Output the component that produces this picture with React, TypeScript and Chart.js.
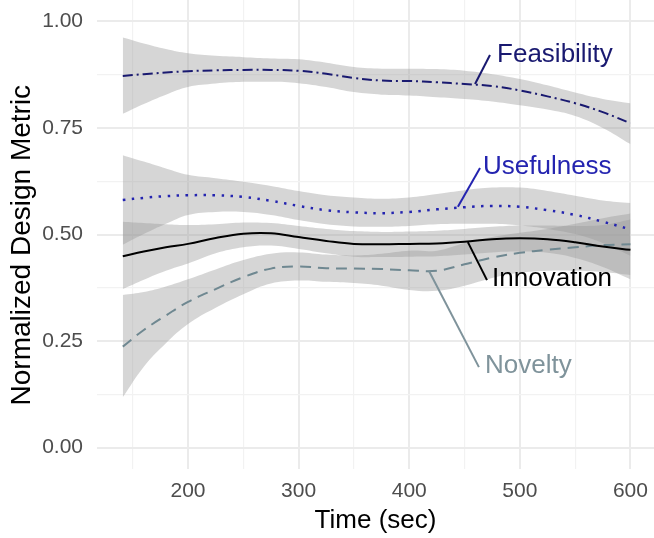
import React, { useEffect, useRef } from "react";
import { Chart, registerables } from "chart.js";

Chart.register(...registerables);

// ---- data ----
const times = [141, 160, 180, 200, 225, 250, 275, 300, 325, 350, 375, 400, 425, 450, 475, 500, 525, 550, 575, 600];

const feasibility = [0.872, 0.876, 0.880, 0.883, 0.885, 0.886, 0.886, 0.884, 0.877, 0.867, 0.861, 0.860, 0.857, 0.853, 0.848, 0.838, 0.824, 0.808, 0.787, 0.761];
const feasibilityUpper = [0.962, 0.948, 0.935, 0.925, 0.919, 0.916, 0.913, 0.911, 0.903, 0.893, 0.889, 0.889, 0.888, 0.884, 0.876, 0.865, 0.850, 0.833, 0.818, 0.808];
const feasibilityLower = [0.783, 0.806, 0.828, 0.846, 0.854, 0.858, 0.858, 0.855, 0.846, 0.834, 0.828, 0.826, 0.822, 0.818, 0.812, 0.803, 0.793, 0.778, 0.750, 0.712];

const usefulness = [0.581, 0.586, 0.590, 0.592, 0.592, 0.588, 0.579, 0.567, 0.557, 0.552, 0.550, 0.553, 0.559, 0.564, 0.567, 0.565, 0.557, 0.546, 0.530, 0.512];
const usefulnessUpper = [0.686, 0.671, 0.655, 0.640, 0.632, 0.624, 0.614, 0.602, 0.592, 0.587, 0.584, 0.587, 0.595, 0.604, 0.610, 0.610, 0.602, 0.591, 0.580, 0.574];
const usefulnessLower = [0.476, 0.501, 0.525, 0.546, 0.553, 0.553, 0.546, 0.534, 0.524, 0.519, 0.518, 0.520, 0.524, 0.525, 0.525, 0.521, 0.513, 0.501, 0.480, 0.450];

const innovation = [0.449, 0.460, 0.470, 0.478, 0.492, 0.502, 0.503, 0.494, 0.485, 0.478, 0.477, 0.478, 0.479, 0.483, 0.489, 0.491, 0.489, 0.482, 0.472, 0.464];
const innovationUpper = [0.530, 0.527, 0.524, 0.522, 0.524, 0.528, 0.527, 0.520, 0.513, 0.508, 0.506, 0.507, 0.509, 0.513, 0.518, 0.521, 0.521, 0.520, 0.522, 0.535];
const innovationLower = [0.372, 0.394, 0.415, 0.432, 0.456, 0.470, 0.474, 0.466, 0.456, 0.448, 0.447, 0.448, 0.449, 0.453, 0.458, 0.460, 0.457, 0.445, 0.424, 0.395];

const novelty = [0.237, 0.276, 0.310, 0.342, 0.372, 0.400, 0.420, 0.425, 0.421, 0.420, 0.419, 0.416, 0.415, 0.430, 0.446, 0.457, 0.464, 0.470, 0.475, 0.477];
const noveltyUpper = [0.358, 0.365, 0.378, 0.395, 0.418, 0.440, 0.455, 0.458, 0.453, 0.451, 0.455, 0.462, 0.462, 0.480, 0.494, 0.504, 0.513, 0.525, 0.538, 0.549];
const noveltyLower = [0.118, 0.190, 0.245, 0.290, 0.328, 0.360, 0.385, 0.392, 0.389, 0.386, 0.380, 0.370, 0.368, 0.380, 0.398, 0.410, 0.415, 0.415, 0.412, 0.405];

const xTickValues = [150, 200, 250, 300, 350, 400, 450, 500, 550, 600];
const xTickLabels = ["", "200", "", "300", "", "400", "", "500", "", "600"];
const yTickValues = [0, 0.125, 0.25, 0.375, 0.5, 0.625, 0.75, 0.875, 1];
const yTickLabels = ["0.00", "", "0.25", "", "0.50", "", "0.75", "", "1.00"];

// direct labels (data coordinates)
const labelNames = ["Feasibility", "Usefulness", "Innovation", "Novelty"];
const labelX = [479.4, 466.7, 474.9, 468.5];
const labelY = [0.921, 0.658, 0.396, 0.192];
const leaderFromX = [473, 464, 470.3, 463];
const leaderFromY = [0.921, 0.656, 0.393, 0.189];
const leaderToX = [459.5, 444, 453, 418];
const leaderToY = [0.853, 0.565, 0.482, 0.414];
const labelColors = ["#191970", "#2424b0", "#000000", "#7f939b"];

const yTitle = "Normalized Design Metric";
const yTitleCenter = 0.475;

const FONT = "'Liberation Sans', Arial, sans-serif";
const BAND = "rgba(153,153,153,0.4)";

const pts = (ys: number[]) => times.map((t, i) => ({ x: t, y: ys[i] }));

const band = (upper: number[], lower: number[]) => [
  {
    label: "upper",
    data: pts(upper),
    borderColor: "rgba(0,0,0,0)",
    borderWidth: 0,
    backgroundColor: BAND,
    pointRadius: 0,
    tension: 0.4,
    fill: "+1",
    order: 10,
  },
  {
    label: "lower",
    data: pts(lower),
    borderColor: "rgba(0,0,0,0)",
    borderWidth: 0,
    pointRadius: 0,
    tension: 0.4,
    fill: false,
    order: 10,
  },
];

const line = (ys: number[], color: string, dash: number[], width: number) => ({
  label: "line",
  data: pts(ys),
  borderColor: color,
  borderWidth: width,
  borderDash: dash,
  pointRadius: 0,
  tension: 0.4,
  fill: false,
  order: 0,
});

const labelPlugin = {
  id: "directLabels",
  afterDatasetsDraw(chart: any) {
    const { ctx, scales, chartArea } = chart;
    const xs = scales.x;
    const ys = scales.y;
    ctx.save();
    labelNames.forEach((name, i) => {
      ctx.strokeStyle = labelColors[i];
      ctx.lineWidth = 2;
      ctx.setLineDash([]);
      ctx.beginPath();
      ctx.moveTo(xs.getPixelForValue(leaderFromX[i]), ys.getPixelForValue(leaderFromY[i]));
      ctx.lineTo(xs.getPixelForValue(leaderToX[i]), ys.getPixelForValue(leaderToY[i]));
      ctx.stroke();
      ctx.fillStyle = labelColors[i];
      ctx.font = `26px ${FONT}`;
      ctx.textAlign = "left";
      ctx.textBaseline = "middle";
      ctx.fillText(name, xs.getPixelForValue(labelX[i]), ys.getPixelForValue(labelY[i]));
    });
    // y axis title
    ctx.translate(chartArea.left - 75, ys.getPixelForValue(yTitleCenter));
    ctx.rotate(-Math.PI / 2);
    ctx.fillStyle = "#000000";
    ctx.font = `28px ${FONT}`;
    ctx.textAlign = "center";
    ctx.textBaseline = "middle";
    ctx.fillText(yTitle, 0, 0);
    ctx.restore();
  },
};

export default function App() {
  const ref = useRef<HTMLCanvasElement | null>(null);

  useEffect(() => {
    if (!ref.current) return;
    const chart = new Chart(ref.current, {
      type: "line",
      data: {
        datasets: [
          ...band(feasibilityUpper, feasibilityLower),
          ...band(usefulnessUpper, usefulnessLower),
          ...band(innovationUpper, innovationLower),
          ...band(noveltyUpper, noveltyLower),
          line(feasibility, "#191970", [10, 4, 2, 4], 2),
          line(usefulness, "#2424b0", [2.5, 6.5], 2.5),
          line(innovation, "#000000", [], 2),
          line(novelty, "#6f8891", [11, 7], 2),
        ] as any,
      },
      options: {
        animation: false,
        responsive: true,
        maintainAspectRatio: false,
        devicePixelRatio: 1,
        layout: { padding: 0 },
        plugins: {
          legend: { display: false },
          tooltip: { enabled: false },
        },
        scales: {
          x: {
            type: "linear",
            min: 117.7,
            max: 621.3,
            border: { display: false },
            afterBuildTicks: (s: any) => {
              s.ticks = xTickValues.map((v) => ({ value: v }));
            },
            afterFit: (s: any) => {
              s.height = 69;
              s.paddingLeft = 0;
              s.paddingRight = 0;
            },
            grid: {
              drawTicks: false,
              color: (c: any) => (xTickLabels[xTickValues.indexOf(c.tick?.value)] ? "#ebebeb" : "#f2f2f2"),
              lineWidth: (c: any) => (xTickLabels[xTickValues.indexOf(c.tick?.value)] ? 2 : 1.2),
            },
            ticks: {
              autoSkip: false,
              maxRotation: 0,
              padding: 10,
              color: "#4d4d4d",
              font: { family: FONT, size: 21, lineHeight: 1.2 },
              callback: (v: any) => xTickLabels[xTickValues.indexOf(Number(v))] ?? "",
            },
            title: {
              display: true,
              text: "Time (sec)",
              color: "#000000",
              font: { family: FONT, size: 26, lineHeight: 1.2 },
              padding: { top: 0, bottom: 2 },
            },
          },
          y: {
            type: "linear",
            min: -0.05,
            max: 1.05,
            border: { display: false },
            afterBuildTicks: (s: any) => {
              s.ticks = yTickValues.map((v) => ({ value: v }));
            },
            afterFit: (s: any) => {
              s.width = 97;
              s.paddingTop = 0;
              s.paddingBottom = 0;
            },
            grid: {
              drawTicks: false,
              color: (c: any) => (yTickLabels[yTickValues.indexOf(c.tick?.value)] ? "#ebebeb" : "#f2f2f2"),
              lineWidth: (c: any) => (yTickLabels[yTickValues.indexOf(c.tick?.value)] ? 2 : 1.2),
            },
            ticks: {
              autoSkip: false,
              padding: 14,
              color: "#4d4d4d",
              font: { family: FONT, size: 21, lineHeight: 1.2 },
              callback: (v: any) => yTickLabels[yTickValues.indexOf(Number(v))] ?? "",
            },
            title: { display: false },
          },
        },
      } as any,
      plugins: [labelPlugin],
    });
    return () => chart.destroy();
  }, []);

  return (
    <div style={{ position: "absolute", left: 0, top: 0, width: 654, height: 538 }}>
      <canvas ref={ref} />
    </div>
  );
}
